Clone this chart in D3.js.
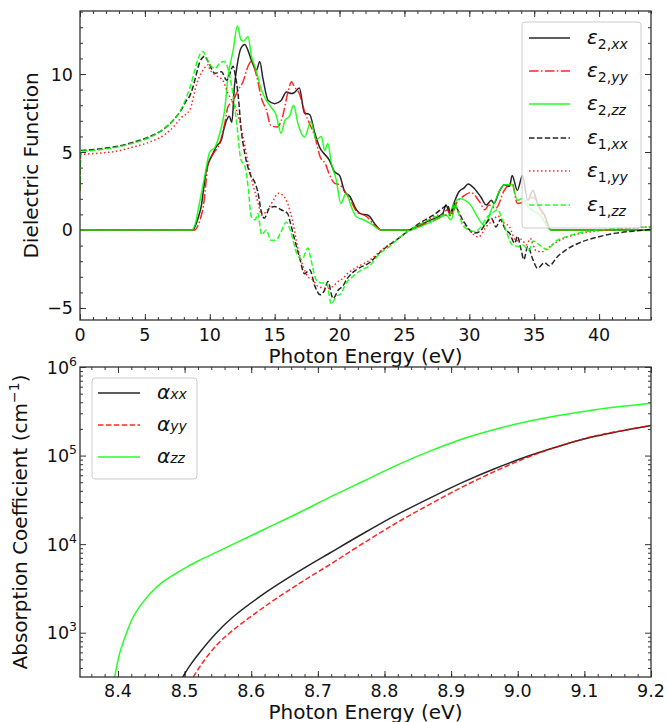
<!DOCTYPE html>
<html>
<head>
<meta charset="utf-8">
<script src="https://cdn.jsdelivr.net/npm/d3@7"></script>
<style>
body { margin: 0; background: #fff; }
text { font-family: "DejaVu Sans", sans-serif; fill: #111; }
</style>
</head>
<body>
<div id="chart"></div>
<script>
// ---- data ----
// top panel: [photon energy (eV), dielectric function]
var eps2xx = [[0,0],[8.7,0],[8.95,0.4],[9.15,0.9],[9.36,1.6],[9.55,2.8],[9.74,3.85],[9.95,4.4],[10.13,4.7],[10.5,5.34],[10.9,5.8],[11.1,6.5],[11.3,7.05],[11.5,7.3],[11.7,6.9],[11.9,9.2],[12.1,10.5],[12.4,11.65],[12.7,11.9],[12.95,11.5],[13.2,10.9],[13.6,10.25],[13.85,10.8],[14.1,9.7],[14.5,8.3],[15.0,8.1],[15.5,8.3],[15.9,8.85],[16.3,8.75],[16.5,8.8],[16.9,9.1],[17.3,7.5],[17.7,7.4],[18.1,6.2],[18.5,5.25],[18.7,5.0],[19.2,4.5],[19.6,3.75],[20.0,3.5],[20.4,2.45],[20.8,2.15],[21.3,1.3],[21.6,1.05],[22.2,0.95],[22.8,0.3],[23.2,0],[25.4,0],[25.9,0.2],[26.9,0.6],[27.95,1.05],[28.2,1.6],[28.5,1.05],[28.85,1.8],[29.2,2.45],[29.6,2.7],[29.9,2.95],[30.4,2.65],[30.9,2.1],[31.3,1.6],[31.7,1.9],[31.9,1.7],[32.3,2.45],[32.7,2.9],[33.1,2.8],[33.3,3.5],[33.7,2.55],[34.1,3.5],[34.5,1.9],[34.9,2.55],[35.25,1.7],[35.8,0.95],[36.3,0],[44,0]];
var eps2yy = [[0,0],[8.85,0],[9.1,0.3],[9.3,0.8],[9.5,1.5],[9.7,3.0],[9.87,4.25],[10.26,4.9],[10.77,5.55],[11.15,6.8],[11.4,7.9],[11.8,8.3],[12.2,9.0],[12.56,9.5],[12.95,10.5],[13.2,10.8],[13.6,9.9],[14.0,8.4],[14.36,7.7],[14.7,6.7],[15.2,6.6],[15.6,7.25],[16.0,8.75],[16.3,9.5],[16.5,9.2],[16.9,8.75],[17.3,7.6],[17.7,6.8],[18.1,6.0],[18.5,4.7],[18.9,4.25],[19.2,3.6],[19.6,3.0],[20.0,2.9],[20.5,2.35],[20.8,2.0],[21.3,1.2],[22.1,0.85],[22.7,0.3],[23.2,0],[25.4,0],[25.9,0.15],[26.9,0.5],[27.9,0.9],[28.3,1.3],[28.6,0.9],[29.0,1.7],[29.6,2.2],[30.1,2.4],[30.8,1.8],[31.2,1.3],[31.5,1.6],[32.05,1.4],[32.7,2.55],[33.3,3.0],[33.7,1.7],[34.2,1.8],[34.9,2.1],[35.6,1.1],[36.3,0],[44,0]];
var eps2zz = [[0,0],[8.6,0],[8.85,0.3],[9.2,1.7],[9.6,3.4],[10.0,5.0],[10.4,5.3],[10.77,6.2],[11.15,7.7],[11.4,9.8],[11.8,11.5],[12.13,13.1],[12.4,12.2],[12.6,12.1],[12.95,12.4],[13.2,11.2],[13.6,10.15],[13.97,9.0],[14.36,8.3],[14.7,7.9],[15.1,7.4],[15.5,6.2],[15.8,7.05],[16.15,7.3],[16.46,8.0],[16.8,6.8],[17.3,5.95],[17.8,6.95],[18.2,5.8],[18.6,6.0],[18.85,5.1],[19.1,5.55],[19.36,4.3],[19.75,3.2],[20.1,1.7],[20.5,2.35],[20.9,1.5],[21.3,0.85],[21.9,0.64],[22.6,0.3],[23.2,0],[25.4,0],[26,0.15],[27,0.5],[28.0,0.9],[28.2,0.96],[28.6,0.65],[29.0,1.9],[29.3,2.0],[30.0,1.7],[31.15,0.32],[31.8,1.5],[32.7,2.9],[33.3,2.9],[33.7,1.9],[34.0,2.0],[34.6,1.4],[35.4,1.0],[36.3,0],[44,0]];
var eps1xx = [[0,2.6],[0.05,5.1],[0.5,5.12],[1.5,5.2],[2.8,5.35],[4,5.6],[5.4,6.0],[6.5,6.5],[7.2,7.05],[7.8,7.7],[8.2,8.3],[8.46,8.6],[8.75,9.3],[8.97,10.0],[9.2,10.7],[9.5,11.1],[9.6,11.15],[9.87,10.8],[10.4,10.05],[10.9,10.15],[11.3,9.6],[11.5,9.9],[11.8,10.5],[11.95,10.0],[12.2,8.55],[12.4,6.6],[12.7,4.9],[13.1,3.6],[13.5,3.0],[13.7,2.45],[14.0,1.07],[14.2,0.75],[14.6,1.4],[15.0,1.5],[15.5,1.3],[16.0,1.05],[16.2,0.5],[16.5,-0.5],[16.9,-1.7],[17.3,-2.8],[17.7,-2.55],[18.1,-3.6],[18.5,-4.15],[18.85,-3.85],[19.1,-3.3],[19.5,-4.4],[19.9,-3.85],[20.25,-3.6],[20.6,-3.1],[21.3,-2.55],[22.3,-2.1],[23.3,-1.3],[23.85,-0.95],[24.6,-0.5],[25.4,0],[26.4,0.55],[27.4,1.05],[28.1,1.5],[28.3,1.6],[28.6,1.05],[28.85,1.7],[29.1,1.3],[29.6,0.5],[30.4,-0.2],[30.8,-0.1],[31.3,0.45],[31.7,0.75],[32.05,0.2],[32.4,0.65],[32.8,0.0],[33.1,-0.2],[33.5,-0.85],[33.7,-0.4],[34.0,-1.3],[34.2,-1.9],[34.5,-1.05],[34.9,-1.9],[35.25,-2.45],[35.8,-2.1],[36.15,-2.3],[36.8,-1.7],[37.4,-1.3],[38.7,-0.75],[40,-0.43],[41.3,-0.2],[42.6,-0.08],[44,0.05]];
var eps1yy = [[0,2.5],[0.05,4.85],[0.5,4.87],[1.5,4.93],[2.8,5.05],[4,5.3],[5.4,5.65],[6.5,6.1],[7.2,6.6],[7.8,7.2],[8.46,7.7],[9.0,9.4],[9.3,10.0],[9.6,10.4],[9.9,10.6],[10.0,10.3],[10.5,9.9],[11.0,9.6],[11.4,8.75],[11.7,8.3],[12.05,7.7],[12.56,6.0],[12.95,4.3],[13.3,3.0],[13.7,1.8],[14.0,0.95],[14.36,1.2],[14.9,1.9],[15.25,2.35],[15.6,2.25],[16.0,1.7],[16.4,0.5],[16.8,-1.2],[17.2,-2.35],[17.56,-3.0],[17.95,-3.2],[18.3,-3.6],[18.7,-3.7],[19.1,-3.75],[19.5,-3.6],[19.9,-3.3],[20.25,-3.1],[20.6,-2.8],[21.3,-2.4],[22.3,-1.95],[23.3,-1.25],[24.6,-0.5],[25.4,0],[26.4,0.45],[27.7,0.95],[28.5,0.95],[28.9,1.5],[29.2,1.0],[29.6,0.4],[30.2,-0.2],[30.7,-0.45],[31.3,0.2],[31.8,0.6],[32.2,0.9],[32.6,0.5],[33.1,0.2],[33.6,-0.7],[34.0,-0.6],[34.4,-0.95],[34.7,-0.55],[35.1,-1.3],[35.6,-1.4],[36.15,-1.1],[36.8,-0.75],[37.4,-0.5],[38.7,-0.2],[40,-0.05],[41.3,0.05],[42.6,0.13],[44,0.2]];
var eps1zz = [[0,2.6],[0.05,5.05],[0.5,5.07],[1.5,5.15],[2.8,5.3],[4,5.55],[5.4,5.95],[6.5,6.5],[7.2,7.05],[7.8,7.75],[8.2,8.5],[8.5,9.2],[8.8,10.1],[9.1,11.0],[9.45,11.45],[9.6,11.3],[10.0,10.6],[10.4,10.35],[10.77,10.7],[11.15,10.8],[11.4,10.35],[11.67,9.3],[12.05,7.05],[12.4,4.5],[12.7,4.1],[12.95,2.8],[13.2,0.85],[13.5,0.65],[13.7,1.05],[14.0,-0.3],[14.36,0],[14.7,-0.65],[15.1,-0.65],[15.5,-0.1],[15.9,0.5],[16.2,0.0],[16.7,-1.5],[17.1,-1.9],[17.56,-1.15],[17.8,-1.9],[18.2,-3.2],[18.6,-3.4],[19.0,-3.4],[19.36,-4.75],[19.75,-4.25],[20.1,-4.1],[20.5,-3.4],[21.0,-3.0],[21.7,-2.55],[22.3,-2.3],[23.1,-1.5],[23.85,-1.05],[24.6,-0.5],[25.4,0],[26.4,0.45],[27.4,0.85],[28.0,0.95],[28.5,1.0],[28.85,1.75],[29.1,1.3],[29.5,0.3],[30.0,0.0],[30.4,-0.1],[30.9,0.2],[31.3,0.75],[31.8,1.1],[32.2,1.3],[32.5,0.75],[32.9,-0.2],[33.3,-0.95],[33.8,-1.05],[34.1,-0.95],[34.6,-1.3],[34.9,-0.7],[35.4,-0.95],[36.0,-1.25],[36.6,-0.75],[37.4,-0.45],[38.7,-0.15],[40,0.0],[41.3,0.1],[42.6,0.15],[44,0.2]];

// bottom panel: [photon energy (eV), absorption coefficient (cm^-1)]
var alphaxx = [[8.497,316],[8.51,447],[8.523,603],[8.548,1000],[8.573,1514],[8.623,2884],[8.673,5012],[8.718,7943],[8.768,13183],[8.818,21380],[8.868,33113],[8.918,50119],[8.968,72444],[9.018,100000],[9.068,131826],[9.118,165959],[9.2,218776]];
var alphayy = [[8.513,316],[8.525,437],[8.548,724],[8.573,1072],[8.623,2042],[8.673,3631],[8.718,5888],[8.768,10233],[8.818,17378],[8.868,28184],[8.918,44668],[8.968,67608],[9.018,97724],[9.068,131826],[9.118,167880],[9.2,218776]];
var alphazz = [[8.395,316],[8.403,603],[8.413,1000],[8.423,1514],[8.435,2089],[8.448,2754],[8.465,3631],[8.485,4571],[8.505,5623],[8.523,6607],[8.548,8128],[8.573,10000],[8.623,15136],[8.673,22909],[8.718,33884],[8.768,51286],[8.818,77625],[8.868,112202],[8.918,154882],[8.968,199526],[9.018,245471],[9.068,288403],[9.118,331131],[9.2,389045]];

var topXTicks = [0, 5, 10, 15, 20, 25, 30, 35, 40];
var topYTicks = [-5, 0, 5, 10];
var botXTicks = [8.4, 8.5, 8.6, 8.7, 8.8, 8.9, 9.0, 9.1, 9.2];
var botYExps = [3, 4, 5, 6];

// ---- layout ----
var W = 668, H = 722;
var L = 80, R = 651;
var topT = 11, topB = 320, botT = 367, botB = 677;

var svg = d3.select("#chart").append("svg")
    .attr("width", W)
    .attr("height", H);

var xTop = d3.scaleLinear().domain([0, 44]).range([L, R]);
var yTop = d3.scaleLinear().domain([-5.77, 14.04]).range([topB, topT]);
var xBot = d3.scaleLinear().domain([8.343, 9.2]).range([L, R]);
var yBot = d3.scaleLog().domain([Math.pow(10, 2.5), 1e6]).range([botB, botT]);

var defs = svg.append("defs");
defs.append("clipPath").attr("id", "clipTop").append("rect")
    .attr("x", L).attr("y", topT).attr("width", R - L).attr("height", topB - topT);
defs.append("clipPath").attr("id", "clipBot").append("rect")
    .attr("x", L).attr("y", botT).attr("width", R - L).attr("height", botB - botT);

// inward ticks on all four sides
function ticksAll(x, y, top, bottom, xMajor, xMinor, yMajor, yMinor) {
    var g = svg.append("g").attr("class", "ticks");
    var sides = [
        [d3.axisBottom(x), "translate(0," + bottom + ")", xMajor, xMinor],
        [d3.axisTop(x), "translate(0," + top + ")", xMajor, xMinor],
        [d3.axisLeft(y), "translate(" + L + ",0)", yMajor, yMinor],
        [d3.axisRight(y), "translate(" + R + ",0)", yMajor, yMinor]
    ];
    sides.forEach(function(s) {
        g.append("g").attr("transform", s[1])
            .call(s[0].tickValues(s[3]).tickSizeInner(-3).tickSizeOuter(0).tickFormat(""));
        g.append("g").attr("transform", s[1])
            .call(s[0].tickValues(s[2]).tickSizeInner(-6).tickSizeOuter(0).tickFormat(""));
    });
    g.selectAll(".domain").remove();
    g.selectAll("line").attr("stroke", "#333").attr("stroke-width", 1);
}

var topXMinor = d3.range(0, 45, 1);
var topYMinor = d3.range(-5, 15, 1);
ticksAll(xTop, yTop, topT, topB, topXTicks, topXMinor, topYTicks, topYMinor);

var botXMinor = d3.range(8.36, 9.21, 0.02);
var botYMinor = [];
[2, 3, 4, 5].forEach(function(d) {
    for (var k = 2; k <= 9; k++) {
        var v = k * Math.pow(10, d);
        if (v >= Math.pow(10, 2.5)) botYMinor.push(v);
    }
});
var botYMajor = botYExps.map(function(e) { return Math.pow(10, e); });
ticksAll(xBot, yBot, botT, botB, botXTicks, botXMinor, botYMajor, botYMinor);

// tick labels
var tickFont = 17.5;
svg.append("g")
    .selectAll("text").data(topXTicks).enter().append("text")
    .attr("x", function(d) { return xTop(d); })
    .attr("y", 341)
    .attr("text-anchor", "middle")
    .attr("font-size", tickFont)
    .text(function(d) { return d; });

svg.append("g")
    .selectAll("text").data(topYTicks).enter().append("text")
    .attr("x", L - 7)
    .attr("y", function(d) { return yTop(d) + 6.5; })
    .attr("text-anchor", "end")
    .attr("font-size", tickFont)
    .text(function(d) { return d3.format("d")(d); });

svg.append("g")
    .selectAll("text").data(botXTicks).enter().append("text")
    .attr("x", function(d) { return xBot(d); })
    .attr("y", 697)
    .attr("text-anchor", "middle")
    .attr("font-size", tickFont)
    .text(function(d) { return d3.format(".1f")(d); });

var ylab = svg.append("g")
    .selectAll("text").data(botYExps).enter().append("text")
    .attr("x", L - 3)
    .attr("y", function(d) { return yBot(Math.pow(10, d)) + 6.5; })
    .attr("text-anchor", "end")
    .attr("font-size", tickFont);
ylab.append("tspan").text("10");
ylab.append("tspan").attr("dy", -8).attr("font-size", 12.5).text(function(d) { return d; });

// axis titles
var titleFont = 20;
svg.append("text")
    .attr("x", (L + R) / 2).attr("y", 363)
    .attr("text-anchor", "middle").attr("font-size", titleFont)
    .text("Photon Energy (eV)");
svg.append("text")
    .attr("x", (L + R) / 2).attr("y", 719)
    .attr("text-anchor", "middle").attr("font-size", titleFont)
    .text("Photon Energy (eV)");
svg.append("text")
    .attr("transform", "translate(38," + (topT + topB) / 2 + ")rotate(-90)")
    .attr("text-anchor", "middle").attr("font-size", titleFont)
    .text("Dielectric Function");
var yt = svg.append("text")
    .attr("transform", "translate(27," + (botT + botB) / 2 + ")rotate(-90)")
    .attr("text-anchor", "middle").attr("font-size", titleFont);
yt.append("tspan").text("Absorption Coefficient (cm");
yt.append("tspan").attr("dy", -8).attr("font-size", 14).text("\u22121");
yt.append("tspan").attr("dy", 8).text(")");

// series styles
var topSeries = [
    { data: eps2xx, color: "#000000", dash: null, sym: "\u03b5", sub1: "2,", sub2: "xx" },
    { data: eps2yy, color: "#ff0000", dash: "9.6,2.4,1.5,2.4", sym: "\u03b5", sub1: "2,", sub2: "yy" },
    { data: eps2zz, color: "#00ff00", dash: null, sym: "\u03b5", sub1: "2,", sub2: "zz" },
    { data: eps1xx, color: "#000000", dash: "5.5,2.4", sym: "\u03b5", sub1: "1,", sub2: "xx" },
    { data: eps1yy, color: "#ff0000", dash: "1.5,2.5", sym: "\u03b5", sub1: "1,", sub2: "yy" },
    { data: eps1zz, color: "#00ff00", dash: "5.5,2.4", sym: "\u03b5", sub1: "1,", sub2: "zz" }
];
var botSeries = [
    { data: alphaxx, color: "#000000", dash: null, sym: "\u03b1", sub1: "", sub2: "xx" },
    { data: alphayy, color: "#ff0000", dash: "5.5,2.4", sym: "\u03b1", sub1: "", sub2: "yy" },
    { data: alphazz, color: "#00ff00", dash: null, sym: "\u03b1", sub1: "", sub2: "zz" }
];

var lineTop = d3.line()
    .x(function(d) { return xTop(d[0]); })
    .y(function(d) { return yTop(d[1]); })
    .curve(d3.curveMonotoneX);
var lineBot = d3.line()
    .x(function(d) { return xBot(d[0]); })
    .y(function(d) { return yBot(d[1]); })
    .curve(d3.curveCatmullRom.alpha(0.5));

svg.append("g").attr("clip-path", "url(#clipTop)")
    .selectAll("path").data(topSeries).enter().append("path")
    .attr("d", function(s) { return lineTop(s.data); })
    .attr("fill", "none")
    .attr("stroke", function(s) { return s.color; })
    .attr("stroke-opacity", 0.85)
    .attr("stroke-width", 1.5)
    .attr("stroke-dasharray", function(s) { return s.dash; });

svg.append("g").attr("clip-path", "url(#clipBot)")
    .selectAll("path").data(botSeries).enter().append("path")
    .attr("d", function(s) { return lineBot(s.data); })
    .attr("fill", "none")
    .attr("stroke", function(s) { return s.color; })
    .attr("stroke-opacity", 0.85)
    .attr("stroke-width", 1.5)
    .attr("stroke-dasharray", function(s) { return s.dash; });

// frames
[[topT, topB], [botT, botB]].forEach(function(p) {
    svg.append("rect")
        .attr("x", L).attr("y", p[0])
        .attr("width", R - L).attr("height", p[1] - p[0])
        .attr("fill", "none").attr("stroke", "#333").attr("stroke-width", 1.3);
});

// legends
function legend(series, x0, y0, w, h, rowY, lineX0, lineX1, textX) {
    var g = svg.append("g");
    g.append("rect")
        .attr("x", x0).attr("y", y0).attr("width", w).attr("height", h)
        .attr("rx", 3).attr("fill", "#fff").attr("fill-opacity", 0.8)
        .attr("stroke", "#cccccc").attr("stroke-width", 1);
    var rows = g.selectAll("g.row").data(series).enter().append("g")
        .attr("transform", function(s, i) { return "translate(0," + rowY[i] + ")"; });
    rows.append("line")
        .attr("x1", lineX0).attr("x2", lineX1).attr("y1", 0).attr("y2", 0)
        .attr("stroke", function(s) { return s.color; })
        .attr("stroke-opacity", 0.85)
        .attr("stroke-width", 1.5)
        .attr("stroke-dasharray", function(s) { return s.dash; });
    var t = rows.append("text").attr("x", textX).attr("y", 6).attr("font-size", 20);
    t.append("tspan").attr("font-style", "italic").text(function(s) { return s.sym; });
    t.append("tspan").attr("dy", 5).attr("font-size", 14).text(function(s) { return s.sub1; });
    t.append("tspan").attr("font-size", 14).attr("font-style", "italic").text(function(s) { return s.sub2; });
}

legend(topSeries, 522, 22, 119, 206, [38, 71, 104, 138, 171, 205], 529, 570, 587);
legend(botSeries, 92, 378, 105, 101, [393, 425, 457], 98, 140, 157);
</script>
</body>
</html>
